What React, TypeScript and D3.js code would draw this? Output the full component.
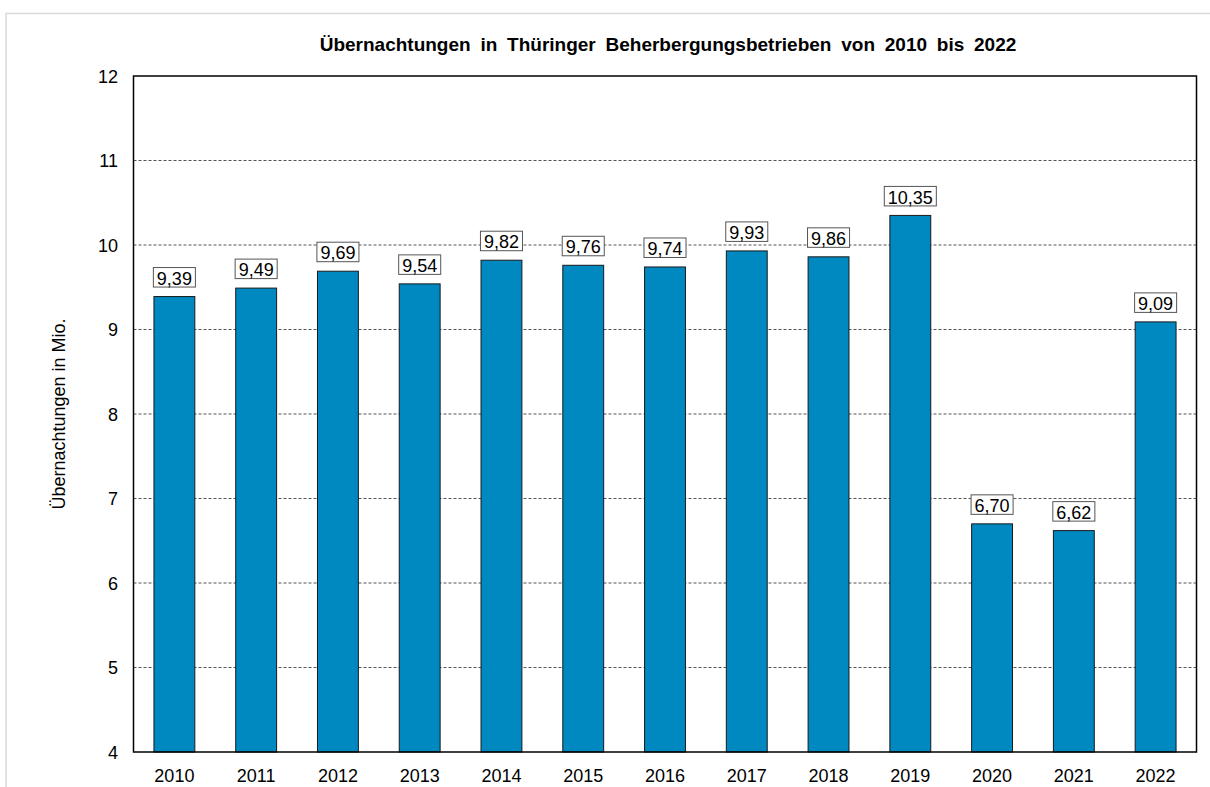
import React from "react";
import * as d3 from "d3";

const years = ["2010","2011","2012","2013","2014","2015","2016","2017","2018","2019","2020","2021","2022"];
const values = [9.39, 9.49, 9.69, 9.54, 9.82, 9.76, 9.74, 9.93, 9.86, 10.35, 6.70, 6.62, 9.09];
const yTicks = [4, 5, 6, 7, 8, 9, 10, 11, 12];
const title = "Übernachtungen in Thüringer Beherbergungsbetrieben von 2010 bis 2022";
const yTitle = "Übernachtungen in Mio.";

const W = 1210, H = 787;
const left = 133.5, right = 1196.5, top = 76, bottom = 752;
const font = "Arial, 'Liberation Sans', sans-serif";

function fmt(v: number) {
  return v.toFixed(2).replace(".", ",");
}

function textWidth(s: string, size: number) {
  let w = 0;
  for (const c of s) w += c === "," ? 0.278 : 0.556;
  return w * size;
}

export default function App() {
  const x = d3.scaleBand().domain(years).range([left, right]).paddingInner(0.5).paddingOuter(0.25);
  const y = d3.scaleLinear().domain([4, 12]).range([bottom, top]);
  return (
    <svg width={W} height={H} style={{ position: "absolute", left: 0, top: 0 }} fontFamily={font}>
      <rect x={0} y={0} width={W} height={H} fill="#fff" />
      <rect x={6} y={13.5} width={1260} height={900} fill="none" stroke="#d9d9d9" strokeWidth={1.5} />
      <text x={668} y={50.5} textAnchor="middle" fontSize={19} fontWeight="bold" wordSpacing={4.5} fill="#000">{title}</text>
      {yTicks.filter(t => t > 4 && t < 12).map(t => (
        <line key={t} x1={left} x2={right} y1={y(t)} y2={y(t)} stroke="#555" strokeWidth={1} strokeDasharray="3,2" />
      ))}
      {yTicks.map(t => (
        <text key={"l" + t} x={118} y={y(t) + 6.5} textAnchor="end" fontSize={18} fill="#000">{t}</text>
      ))}
      <text transform={`translate(65,${(top + bottom) / 2}) rotate(-90)`} textAnchor="middle" fontSize={18} fill="#000">{yTitle}</text>
      {years.map((yr, i) => {
        const bx = x(yr)!;
        const bw = x.bandwidth();
        const v = values[i];
        const label = fmt(v);
        const tw = textWidth(label, 18);
        const boxW = tw + 7;
        const cx = bx + bw / 2;
        const by = y(v);
        return (
          <g key={yr}>
            <rect x={bx} y={by} width={bw} height={bottom - by} fill="#0088c0" stroke="#1a1a1a" strokeWidth={1} />
            <rect x={cx - boxW / 2} y={by - 29} width={boxW} height={19.5} fill="#fff" stroke="#555" strokeWidth={1} />
            <text x={cx} y={by - 11.8} textAnchor="middle" fontSize={18} fill="#000">{label}</text>
            <text x={cx} y={782} textAnchor="middle" fontSize={18} fill="#000">{yr}</text>
          </g>
        );
      })}
      <rect x={left} y={top} width={right - left} height={bottom - top} fill="none" stroke="#000" strokeWidth={1.5} />
    </svg>
  );
}
